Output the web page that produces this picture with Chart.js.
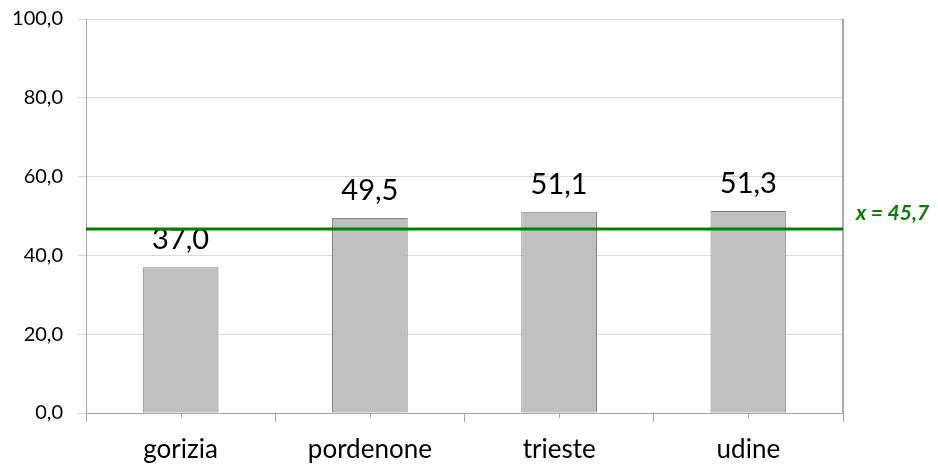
<!DOCTYPE html>
<html>
<head>
<meta charset="utf-8">
<script src="https://cdn.jsdelivr.net/npm/chart.js@4.4.1/dist/chart.umd.min.js"></script>
<style>
  html, body { margin: 0; padding: 0; background: #fff; }
  #wrap { width: 938px; height: 465px; position: relative; }
</style>
</head>
<body>
<div id="wrap"><canvas id="chart"></canvas></div>
<script>
// data
const categories = ['gorizia', 'pordenone', 'trieste', 'udine'];
const values = [37.0, 49.5, 51.1, 51.3];
const yTicks = [0, 20, 40, 60, 80, 100];
const meanLine = 46.7;          // where the green line is drawn
const meanLabel = 'x = 45,7';   // text printed next to it

const FONT = 'Lato, "Open Sans", sans-serif';
const fmt = v => v.toFixed(1).replace('.', ',');

// value labels, mean line, right border, centre ticks
const extras = {
  id: 'extras',
  afterDatasetsDraw(chart) {
    const { ctx, chartArea, scales } = chart;
    const x = scales.x, y = scales.y;
    ctx.save();

    // right frame line
    ctx.strokeStyle = '#8c8c8c';
    ctx.lineWidth = 1.5;
    ctx.beginPath();
    ctx.moveTo(chartArea.right, chartArea.top);
    ctx.lineTo(chartArea.right, chartArea.bottom);
    ctx.stroke();

    // short ticks under each category centre
    ctx.strokeStyle = '#a6a6a6';
    ctx.lineWidth = 1;
    categories.forEach((c, i) => {
      const px = Math.round(x.getPixelForValue(i)) + 0.5;
      ctx.beginPath();
      ctx.moveTo(px, chartArea.bottom);
      ctx.lineTo(px, chartArea.bottom + 5);
      ctx.stroke();
    });

    // bar value labels
    ctx.fillStyle = '#000';
    ctx.font = '29px ' + FONT;
    ctx.textAlign = 'center';
    ctx.textBaseline = 'alphabetic';
    const meta = chart.getDatasetMeta(0);
    meta.data.forEach((bar, i) => {
      ctx.fillText(fmt(values[i]), bar.x, bar.y - 18);
    });

    // mean line
    const ly = y.getPixelForValue(meanLine);
    ctx.strokeStyle = '#008000';
    ctx.lineWidth = 3;
    ctx.beginPath();
    ctx.moveTo(chartArea.left, ly);
    ctx.lineTo(chartArea.right, ly);
    ctx.stroke();

    ctx.fillStyle = '#008000';
    ctx.font = 'italic bold 21px ' + FONT;
    ctx.textAlign = 'left';
    ctx.textBaseline = 'middle';
    ctx.fillText(meanLabel, chartArea.right + 13, ly - 16);

    ctx.restore();
  }
};

new Chart(document.getElementById('chart'), {
  type: 'bar',
  data: {
    labels: categories,
    datasets: [{
      data: values,
      backgroundColor: '#c0c0c0',
      borderColor: '#808080',
      borderWidth: 1,
      borderSkipped: false,
      barPercentage: 0.4,
      categoryPercentage: 1
    }]
  },
  options: {
    responsive: true,
    maintainAspectRatio: false,
    animation: false,
    layout: { padding: { top: 19, right: 95, left: 0, bottom: 0 } },
    plugins: {
      legend: { display: false },
      tooltip: { enabled: false }
    },
    scales: {
      x: {
        offset: true,
        grid: {
          offset: true,
          drawOnChartArea: false,
          tickLength: 9,
          color: '#a6a6a6'
        },
        border: { color: '#a6a6a6' },
        ticks: {
          color: '#000',
          font: { family: FONT, size: 26 },
          padding: 12
        },
        afterFit(scale) { scale.height = 52; }
      },
      y: {
        min: 0,
        max: 100,
        afterBuildTicks(scale) { scale.ticks = yTicks.map(v => ({ value: v })); },
        grid: {
          color: '#d9d9d9',
          tickLength: 8,
          tickColor: '#d9d9d9'
        },
        border: { color: '#a6a6a6' },
        ticks: {
          color: '#000',
          font: { family: FONT, size: 20 },
          padding: 15,
          callback: v => fmt(v)
        },
        afterFit(scale) {
          scale.width = 86;
          scale.paddingTop = 0;
          scale.paddingBottom = 0;
        }
      }
    }
  },
  plugins: [extras]
});
</script>
</body>
</html>
